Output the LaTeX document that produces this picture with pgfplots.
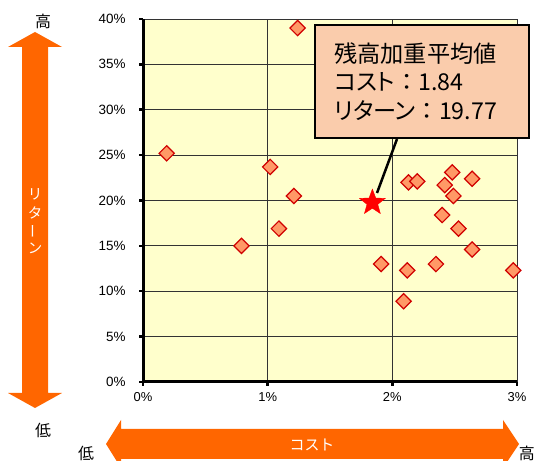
\documentclass[border=0pt]{standalone}
\usepackage{pgfplots}
\pgfplotsset{compat=1.18}
\usepackage{fontspec}
\setmainfont{Liberation Sans}
\newfontfamily\jp{Noto Sans CJK JP}
\newfontfamily\jpp{Noto Sans CJK JP}[RawFeature=+palt]

\definecolor{plotbg}{HTML}{FFFFCC}
\definecolor{arroworange}{HTML}{FF6600}
\definecolor{mkfill}{HTML}{FF9966}
\definecolor{mkedge}{HTML}{D00000}
\definecolor{calloutbg}{RGB}{250,204,172}

% filled five-pointed star used for the weighted average
\pgfdeclareplotmark{fivestar}{%
  \pgfpathmoveto{\pgfqpointpolar{90}{\pgfplotmarksize}}%
  \pgfpathlineto{\pgfqpointpolar{126}{0.42\pgfplotmarksize}}%
  \pgfpathlineto{\pgfqpointpolar{162}{\pgfplotmarksize}}%
  \pgfpathlineto{\pgfqpointpolar{198}{0.42\pgfplotmarksize}}%
  \pgfpathlineto{\pgfqpointpolar{234}{\pgfplotmarksize}}%
  \pgfpathlineto{\pgfqpointpolar{270}{0.42\pgfplotmarksize}}%
  \pgfpathlineto{\pgfqpointpolar{306}{\pgfplotmarksize}}%
  \pgfpathlineto{\pgfqpointpolar{342}{0.42\pgfplotmarksize}}%
  \pgfpathlineto{\pgfqpointpolar{18}{\pgfplotmarksize}}%
  \pgfpathlineto{\pgfqpointpolar{54}{0.42\pgfplotmarksize}}%
  \pgfpathclose
  \pgfusepathqfillstroke
}

\begin{document}
\begin{tikzpicture}[x=1bp,y=1bp]
\useasboundingbox (0,0) rectangle (535,461);
\clip (0,0) rectangle (535,461);

% vertical return arrow
\fill[arroworange] (35,429) -- (62,414) -- (48,414) -- (48,68) -- (62,68)
  -- (35,53) -- (8,68) -- (22,68) -- (22,414) -- (8,414) -- cycle;
\begin{scope}[every node/.style={white, font=\jp\fontsize{14.5}{14.5}\selectfont, inner sep=0}]
  \node at (35,267) {リ};
  \node at (35,248) {タ};
  \node at (35,230) {\rotatebox{90}{ー}};
  \node at (35,213) {ン};
\end{scope}
\node[font=\jp\fontsize{16}{16}\selectfont] at (43,440) {高};
\node[font=\jp\fontsize{16}{16}\selectfont] at (43,31) {低};

% horizontal cost arrow
\fill[arroworange] (106,17) -- (121,41) -- (121,32) -- (503,32) -- (503,41)
  -- (519,17) -- (503,-7) -- (503,2) -- (121,2) -- (121,-7) -- cycle;
\node[white, font=\jp\fontsize{15}{15}\selectfont] at (312,16) {コスト};
\node[font=\jp\fontsize{16}{16}\selectfont] at (86,8) {低};
\node[font=\jp\fontsize{16}{16}\selectfont, anchor=east, inner sep=0] at (535,8) {高};

\begin{axis}[
  at={(143bp,79bp)}, anchor=south west,
  scale only axis, width=374bp, height=363bp,
  xmin=0, xmax=3, ymin=0, ymax=40,
  xtick={0,1,2,3}, ytick={0,5,...,40},
  xticklabels={0\%,1\%,2\%,3\%},
  yticklabels={0\%,5\%,10\%,15\%,20\%,25\%,30\%,35\%,40\%},
  x tick label style={font=\fontsize{13}{13}\selectfont, yshift=-3bp},
  y tick label style={font=\fontsize{13.5}{13.5}\selectfont, xshift=-10bp},
  axis x line*=bottom, axis y line*=left,
  axis line style={line width=3bp, -},
  grid=major, grid style={black!80, line width=0.9bp},
  tick align=outside, major tick length=4bp,
  tick style={black, line width=2.5bp},
  axis background/.style={fill=plotbg},
]
% individual funds: cost (%) vs return (%)
\addplot[only marks, mark=square*, mark size=5.4bp,
  mark options={rotate=45, fill=mkfill, draw=mkedge, line width=1.2bp}]
  coordinates {
  (0.19,25.2) (0.79,15.0) (1.02,23.7) (1.09,16.9) (1.21,20.5)
  (1.24,39.0) (1.91,13.0) (2.09,8.9) (2.12,12.3) (2.13,22.0)
  (2.20,22.1) (2.35,13.0) (2.40,18.4) (2.42,21.7) (2.48,23.1)
  (2.49,20.5) (2.53,16.9) (2.64,22.4) (2.64,14.6) (2.97,12.3)
  };
% balance-weighted average
\addplot[only marks, mark=fivestar, mark size=13.5bp,
  mark options={fill=red, draw=red}]
  coordinates {(1.84,19.77)};
\end{axis}

% callout for the weighted average
\draw[line width=2.5bp] (397,322) -- (377,268);
\draw[line width=2.5bp, fill=calloutbg] (315,436) rectangle (529,323);
\begin{scope}[every node/.style={anchor=base west, inner sep=0}]
  \node[font=\jp\fontsize{23.3}{23}\selectfont] at (334,398) {残高加重平均値};
  \node[font=\jpp\fontsize{23.3}{23}\selectfont] at (334,370) {コスト{\jp：}1.84};
  \node[font=\jpp\fontsize{23.3}{23}\selectfont] at (334,341) {リターン{\jp：}19.77};
\end{scope}
\end{tikzpicture}
\end{document}
